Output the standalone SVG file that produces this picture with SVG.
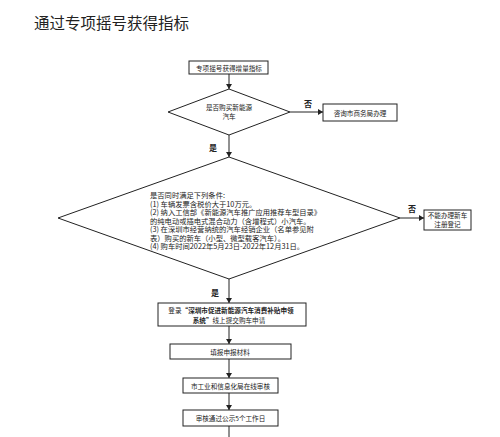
<svg xmlns="http://www.w3.org/2000/svg" width="500" height="437" viewBox="0 0 500 437">
<defs>
<marker id="ah" markerWidth="6" markerHeight="6" refX="5" refY="3" orient="auto" markerUnits="userSpaceOnUse">
<path d="M0,0 L5,3 L0,6 z" fill="#222"/>
</marker>
<style>
text{font-family:"Noto Sans CJK SC","Noto Sans CJK JP",sans-serif;fill:#222}
.n{fill:#fff;stroke:#222;stroke-width:1}
.c{stroke:#222;stroke-width:1;fill:none}
.t{font-size:6.6px;text-anchor:middle;dominant-baseline:central}
.l{font-size:7.3px;dominant-baseline:central}
.y{font-size:8px;font-weight:bold;text-anchor:middle;dominant-baseline:central}
</style>
</defs>
<rect width="500" height="437" fill="#fff"/>
<text x="34" y="22" style="font-size:15.5px;dominant-baseline:central">通过专项摇号获得指标</text>
<g id="connectors">
<line class="c" x1="229" y1="74" x2="229" y2="89" marker-end="url(#ah)"/>
<line class="c" x1="290" y1="112" x2="323" y2="112" marker-end="url(#ah)"/>
<line class="c" x1="229" y1="135" x2="229" y2="157" marker-end="url(#ah)"/>
<line class="c" x1="400" y1="218" x2="424" y2="218" marker-end="url(#ah)"/>
<line class="c" x1="229" y1="279" x2="229" y2="303" marker-end="url(#ah)"/>
<line class="c" x1="229" y1="326" x2="229" y2="344" marker-end="url(#ah)"/>
<line class="c" x1="229" y1="359" x2="229" y2="378" marker-end="url(#ah)"/>
<line class="c" x1="229" y1="393" x2="229" y2="410" marker-end="url(#ah)"/>
<line class="c" x1="229" y1="426" x2="229" y2="437"/>
<text class="y" x="308" y="103">否</text>
<text class="y" x="213" y="147">是</text>
<text class="y" x="412" y="208">否</text>
<text class="y" x="215" y="292">是</text>
</g>
<g id="n1">
<rect class="n" x="189" y="61" width="79" height="13"/>
<text class="t" x="229" y="67.5">专项摇号获得增量指标</text>
</g>
<g id="d1">
<polygon class="n" points="229,89 290,112 229,135 168,112"/>
<text class="t" x="229" y="107">是否购买新能源</text>
<text class="t" x="229" y="116">汽车</text>
</g>
<g id="n2">
<rect class="n" x="323" y="104" width="74" height="17"/>
<text class="t" x="360" y="112.5">咨询市商务局办理</text>
</g>
<g id="d2">
<polygon class="n" points="229,157 400,218 229,279 58,218"/>
<text class="l" x="150" y="195">是否同时满足下列条件:</text>
<text class="l" x="150" y="203.5">(1) 车辆发票含税价大于10万元。</text>
<text class="l" x="150" y="212">(2) 纳入工信部《新能源汽车推广应用推荐车型目录》</text>
<text class="l" x="150" y="220.5">的纯电动或插电式混合动力（含增程式）小汽车。</text>
<text class="l" x="150" y="229">(3) 在深圳市经营纳统的汽车经销企业（名单参见附</text>
<text class="l" x="150" y="237.5">表）购买的新车（小型、微型载客汽车）。</text>
<text class="l" x="150" y="246">(4) 购车时间2022年5月23日-2022年12月31日。</text>
</g>
<g id="n3">
<rect class="n" x="424" y="210" width="47" height="20"/>
<text class="t" x="447.5" y="215">不能办理新车</text>
<text class="t" x="447.5" y="224">注册登记</text>
</g>
<g id="n4">
<rect class="n" x="158" y="303" width="148" height="23"/>
<text class="t" x="231" y="310">登录<tspan font-weight="bold">“深圳市促进新能源汽车消费补贴申领</tspan></text>
<text class="t" x="229" y="320"><tspan font-weight="bold">系统”</tspan>线上提交购车申请</text>
</g>
<g id="n5">
<rect class="n" x="170" y="344" width="121" height="15"/>
<text class="t" x="230" y="351.5">填报申报材料</text>
</g>
<g id="n6">
<rect class="n" x="183" y="378" width="95" height="15"/>
<text class="t" x="230.5" y="385.5">市工业和信息化局在线审核</text>
</g>
<g id="n7">
<rect class="n" x="183" y="410" width="95" height="16"/>
<text class="t" x="230.5" y="418">审核通过公示5个工作日</text>
</g>
</svg>
